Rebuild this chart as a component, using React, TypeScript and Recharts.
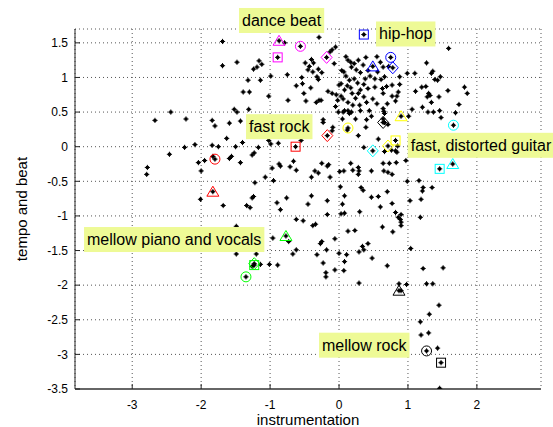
import { ScatterChart, Scatter, XAxis, YAxis, CartesianGrid, ReferenceDot } from "recharts";

type Pt = [number, number];
type Mark = { x: number; y: number; shape: "tri" | "circ" | "sq" | "dia" };

const font = "'Liberation Sans', Arial, Helvetica, sans-serif";

// songs, grouped by region of the plot
const upperLeft: Pt[] = [
  [-1.69, 1.52], [-0.79, 1.5], [-1.69, 1.17], [-1.48, 1.22], [-1.24, 1.12], [-1.19, 1.15],
  [-1.16, 1.24], [-1.12, 1.19], [-0.49, 1.21], [-0.45, 1.11], [-0.75, 1.04], [-0.99, 1.02],
  [-0.54, 1.0], [-1.32, 0.96], [-1.14, 0.96], [-0.62, 0.88], [-0.53, 0.91], [-1.39, 0.79],
  [-1.3, 0.79], [-1.02, 0.73], [-0.74, 0.67], [-0.48, 0.66], [-1.52, 0.54], [-1.48, 0.5],
  [-1.31, 0.54], [-2.44, 0.5], [-2.67, 0.38], [-2.22, 0.4], [-1.84, 0.38], [-1.8, 0.3],
  [-1.59, 0.34], [-1.43, 0.37], [-1.63, 0.12], [-1.23, 0.15], [-1.4, 0.06], [-1.02, 0.09],
  [-0.99, 0.04], [-0.88, 0.05], [-2.24, -0.01], [-2.09, 0.03], [-1.84, 0.02], [-1.75, 0.0],
  [-1.5, 0.0], [-1.17, -0.01], [-0.51, 0.77], [-0.55, 0.09],
];

const upperCenter: Pt[] = [
  [-0.29, 1.58], [-0.05, 1.44], [-0.1, 1.4], [-0.13, 1.37], [-0.4, 1.26], [-0.37, 1.21],
  [-0.43, 1.16], [-0.3, 1.12], [-0.38, 1.08], [-0.25, 1.07], [-0.32, 1.01], [-0.3, 0.97],
  [-0.07, 1.2], [-0.41, 0.85], [-0.16, 0.8], [-0.1, 0.77], [-0.04, 0.75], [-0.33, 0.64],
  [-0.29, 0.67], [-0.26, 0.67], [-0.23, 0.39], [-0.09, 0.28], [-0.1, 0.23], [-0.23, 0.35],
  [0.04, 1.1], [0.07, 1.08], [0.17, 1.22], [0.18, 1.15], [0.25, 1.11], [0.31, 1.07],
  [0.39, 1.29], [0.52, 0.98], [0.0, 0.89], [0.03, 0.91], [0.15, 0.96], [0.17, 0.85],
  [0.19, 0.77], [0.28, 0.77], [0.31, 0.82], [0.52, 0.86], [0.49, 0.69], [0.03, 0.73],
  [0.06, 0.69], [-0.02, 0.67], [0.08, 0.52], [0.06, 0.5], [0.13, 0.52], [0.18, 0.5],
  [0.15, 0.48], [0.31, 0.52], [0.44, 0.52], [-0.01, 0.5], [0.1, 1.3], [0.13, 1.25],
  [0.22, 1.2], [0.28, 1.25], [0.35, 1.18], [0.42, 1.1], [0.45, 1.02], [0.38, 0.98],
  [0.1, 1.02], [0.22, 0.98], [0.27, 0.92], [0.36, 0.9], [0.42, 0.84], [0.12, 0.88],
  [0.08, 0.82], [0.24, 0.7], [0.36, 0.72], [0.4, 0.64], [0.55, 0.62], [0.13, 0.64],
  [0.2, 0.6], [0.3, 0.6], [0.47, 0.44], [0.24, 0.4], [0.05, 0.4], [-0.05, 0.58],
  [0.56, 1.08], [0.55, 1.3], [0.12, 0.24], [0.28, 0.16], [0.39, 0.28], [0.57, 0.11],
  [0.36, -0.01], [0.4, 0.39],
];

const upperRight: Pt[] = [
  [1.59, 1.42], [1.27, 1.21], [0.99, 1.06], [1.1, 1.06], [0.88, 1.01], [0.66, 1.01],
  [0.61, 0.97], [1.34, 1.06], [1.36, 1.09], [1.39, 0.97], [1.43, 0.96], [1.47, 1.01],
  [0.88, 0.9], [0.77, 0.89], [0.69, 0.87], [0.63, 0.84], [0.64, 0.77], [0.77, 0.73],
  [0.84, 0.73], [0.82, 0.66], [0.86, 0.79], [1.11, 0.8], [1.2, 0.86], [1.26, 0.87],
  [1.3, 0.77], [1.32, 0.74], [1.28, 0.72], [1.34, 0.64], [1.21, 0.57], [1.29, 0.5],
  [1.37, 0.5], [1.46, 0.52], [1.48, 0.42], [1.58, 0.81], [1.45, 0.72], [1.82, 0.86],
  [1.86, 0.77], [1.74, 0.61], [1.69, 0.49], [1.06, 0.54], [1.01, 0.44], [0.64, 0.55],
  [0.65, 0.51], [0.66, 0.48], [0.64, 0.4], [0.72, 1.16], [0.7, 0.62], [0.6, 1.22],
  [0.64, 1.15], [0.66, 0.35], [0.71, 0.32], [0.85, 0.01],
];

const lowerLeft: Pt[] = [
  [-2.46, -0.11], [-1.26, -0.12], [-1.23, -0.09], [-2.78, -0.3], [-2.79, -0.4], [-2.04, -0.23],
  [-1.95, -0.2], [-2.0, -0.35], [-1.83, -0.14], [-1.59, -0.17], [-1.56, -0.14], [-1.43, -0.23],
  [-0.87, -0.25], [-0.85, -0.28], [-0.97, -0.31], [-0.71, -0.29], [-0.62, -0.34], [-0.66, -0.21],
  [-1.07, -0.44], [-0.95, -0.49], [-1.22, -0.52], [-2.01, -0.76], [-1.68, -0.85], [-1.26, -0.74],
  [-1.24, -0.72], [-1.34, -0.85], [-1.29, -0.88], [-0.9, -0.81], [-0.85, -0.91], [-0.76, -0.74],
  [-0.45, -0.83], [-0.62, -1.05], [-0.52, -1.07], [-1.49, -1.15], [-0.96, -1.32], [-0.73, -1.37],
  [-0.62, -1.49], [-0.67, -1.55], [-1.49, -1.55], [-1.2, -1.55], [-1.26, -1.73], [-1.14, -1.7],
  [-1.01, -1.7], [-0.89, -1.71],
];

const lowerCenter: Pt[] = [
  [-0.25, -0.24], [-0.17, -0.28], [-0.15, -0.26], [-0.35, -0.35], [-0.3, -0.38], [-0.4, -0.44],
  [-0.13, -0.44], [0.01, -0.36], [0.07, -0.35], [0.17, -0.24], [0.2, -0.34], [0.28, -0.3],
  [0.29, -0.35], [0.28, -0.4], [0.47, -0.35], [0.02, -0.58], [0.32, -0.59], [0.35, -0.63],
  [-0.4, -0.71], [-0.17, -0.78], [0.08, -0.71], [0.05, -0.83], [0.47, -0.73], [0.57, -0.72],
  [0.3, -0.94], [0.6, -0.87], [-0.17, -0.98], [0.03, -0.97], [0.08, -0.96], [-0.38, -1.14],
  [-0.34, -1.12], [0.13, -1.22], [0.23, -1.21], [-0.06, -1.33], [-0.27, -1.4], [-0.25, -1.37],
  [-0.18, -1.49], [-0.32, -1.56], [0.0, -1.54], [0.11, -1.56], [0.34, -1.44], [0.36, -1.49],
  [0.42, -1.4], [0.29, -1.52], [0.48, -1.61], [-0.23, -1.68], [0.08, -1.66], [-0.19, -1.82],
  [-0.19, -1.88], [-0.06, -1.78], [0.07, -1.79], [0.29, -1.97],
];

const lowerRight: Pt[] = [
  [0.76, -0.05], [0.82, -0.06], [0.84, -0.08], [0.66, -0.07], [0.64, -0.24], [0.73, -0.24],
  [0.83, -0.23], [0.97, -0.2], [0.65, -0.35], [0.71, -0.37], [0.77, -0.4], [0.99, -0.5],
  [1.16, -0.49], [1.22, -0.59], [1.21, -0.64], [1.35, -0.59], [0.7, -0.65], [0.77, -0.82],
  [1.03, -0.78], [1.19, -0.76], [0.82, -0.95], [0.9, -0.98], [0.86, -1.02], [0.89, -1.05],
  [0.9, -1.09], [0.9, -1.14], [0.63, -1.16], [0.78, -1.23], [1.18, -1.02], [1.04, -1.47],
  [0.7, -1.72], [1.22, -1.76], [1.51, -1.75], [0.87, -1.98], [0.98, -1.99], [1.27, -1.98],
  [1.36, -1.98], [0.9, -2.08], [1.45, -2.29], [1.31, -2.42], [1.18, -2.53], [1.19, -2.72],
  [1.3, -2.69], [1.43, -2.91], [1.46, -3.49],
];

// songs picked out with open markers
const magentaMarks: Mark[] = [
  { x: -0.87, y: 1.53, shape: "tri" }, { x: -0.56, y: 1.45, shape: "circ" },
  { x: -0.89, y: 1.29, shape: "sq" }, { x: -0.18, y: 1.29, shape: "dia" },
];
const blueMarks: Mark[] = [
  { x: 0.36, y: 1.62, shape: "sq" }, { x: 0.75, y: 1.29, shape: "circ" },
  { x: 0.49, y: 1.16, shape: "tri" }, { x: 0.78, y: 1.14, shape: "dia" },
];
const redMarks: Mark[] = [
  { x: -0.63, y: 0.0, shape: "sq" }, { x: -0.17, y: 0.16, shape: "dia" },
  { x: -1.8, y: -0.18, shape: "circ" }, { x: -1.83, y: -0.65, shape: "tri" },
];
const yellowMarks: Mark[] = [
  { x: 0.13, y: 0.27, shape: "circ" }, { x: 0.9, y: 0.44, shape: "tri" },
  { x: 0.82, y: 0.09, shape: "sq" }, { x: 0.71, y: 0.01, shape: "dia" },
];
const cyanMarks: Mark[] = [
  { x: 1.66, y: 0.31, shape: "circ" }, { x: 0.49, y: -0.06, shape: "dia" },
  { x: 1.46, y: -0.32, shape: "sq" }, { x: 1.65, y: -0.25, shape: "tri" },
];
const greenMarks: Mark[] = [
  { x: -0.77, y: -1.29, shape: "tri" }, { x: -1.23, y: -1.71, shape: "sq" },
  { x: -1.23, y: -1.69, shape: "dia" }, { x: -1.35, y: -1.88, shape: "circ" },
];
const blackMarks: Mark[] = [
  { x: 0.64, y: 0.35, shape: "dia" }, { x: 0.87, y: -2.08, shape: "tri" },
  { x: 1.27, y: -2.95, shape: "circ" }, { x: 1.48, y: -3.12, shape: "sq" },
];

const notes = [
  { text: "dance beat", x: -1.451, y: 1.823 },
  { text: "hip-hop", x: 0.537, y: 1.628 },
  { text: "fast rock", x: -1.349, y: 0.289 },
  { text: "fast, distorted guitar", x: 0.997, y: 0.02 },
  { text: "mellow piano and vocals", x: -3.699, y: -1.341 },
  { text: "mellow rock", x: -0.29, y: -2.867 },
];

const xTicks = [-3, -2, -1, 0, 1, 2];
const yTicks = [-3.5, -3, -2.5, -2, -1.5, -1, -0.5, 0, 0.5, 1, 1.5];

const markGroups: [string, Mark[]][] = [
  ["#ff00ff", magentaMarks],
  ["#0000ff", blueMarks],
  ["#ff0000", redMarks],
  ["#ffff00", yellowMarks],
  ["#00ffff", cyanMarks],
  ["#00ff00", greenMarks],
  ["#000000", blackMarks],
];

const allSongs = [
  ...upperLeft, ...upperCenter, ...upperRight, ...lowerLeft, ...lowerCenter, ...lowerRight,
].map(([x, y]) => ({ x, y }));
const markedSongs = markGroups.flatMap(([, m]) => m.map((p) => ({ x: p.x, y: p.y })));

function SongDot(props: any) {
  const { cx, cy } = props;
  if (cx == null || cy == null) return null;
  return (
    <g>
      <rect x={cx - 1.5} y={cy - 1.5} width={3} height={3} fill="#000" />
      <path d={`M${cx - 2.6},${cy}H${cx + 2.6}M${cx},${cy - 2.6}V${cy + 2.6}`} stroke="#000" strokeWidth={1} />
    </g>
  );
}

const markShape = (color: string) => (props: any) => {
  const { cx, cy, payload } = props;
  if (cx == null || cy == null) return null;
  const common = { fill: "none", stroke: color, strokeWidth: 1 };
  switch (payload.shape) {
    case "tri":
      return <path d={`M${cx},${cy - 5.5}L${cx + 6},${cy + 4.5}L${cx - 6},${cy + 4.5}Z`} {...common} />;
    case "circ":
      return <circle cx={cx} cy={cy} r={5} {...common} />;
    case "sq":
      return <rect x={cx - 4.5} y={cy - 4.5} width={9} height={9} {...common} />;
    default:
      return <path d={`M${cx},${cy - 6}L${cx + 5.5},${cy}L${cx},${cy + 6}L${cx - 5.5},${cy}Z`} {...common} />;
  }
};

let ctx: CanvasRenderingContext2D | null = null;
function textWidth(t: string) {
  if (!ctx) ctx = document.createElement("canvas").getContext("2d");
  if (!ctx) return t.length * 8;
  ctx.font = `16px ${font}`;
  return ctx.measureText(t).width;
}

const noteShape = (text: string) => (props: any) => {
  const { cx, cy } = props;
  if (cx == null || cy == null) return null;
  const w = textWidth(text) + 6;
  return (
    <g>
      <rect x={cx} y={cy - 12.5} width={w} height={25} fill="#eefa96" />
      <text x={cx + 3} y={cy + 5.5} fontSize={16} fontFamily={font} fill="#000">
        {text}
      </text>
    </g>
  );
};

function XTick(props: any) {
  const { x, y, payload } = props;
  return (
    <g>
      <line x1={x} x2={x} y1={y - 11} y2={y - 16} stroke="#222" />
      <text x={x} y={y} dy="0.71em" textAnchor="middle" fontSize={12} fontFamily={font} fill="#000">
        {payload.value}
      </text>
    </g>
  );
}

function YTick(props: any) {
  const { x, y, payload } = props;
  return (
    <g>
      <line x1={x + 7} x2={x + 12} y1={y} y2={y} stroke="#222" />
      <text x={x} y={y} dy="0.35em" textAnchor="end" fontSize={12} fontFamily={font} fill="#000">
        {payload.value}
      </text>
    </g>
  );
}

export default function App() {
  return (
    <div style={{ position: "absolute", left: 0, top: 0, background: "#fff" }}>
      <ScatterChart width={553} height={427} margin={{ top: 29, right: 12, bottom: 0, left: 0 }}>
        <CartesianGrid stroke="#555" strokeDasharray="1 3" />
        <XAxis
          type="number"
          dataKey="x"
          domain={[-3.83, 2.93]}
          ticks={xTicks}
          allowDataOverflow
          height={38}
          tickSize={0}
          tickMargin={11}
          tickLine={false}
          tick={<XTick />}
          axisLine={{ stroke: "#666", strokeWidth: 2 }}
          label={{
            value: "instrumentation",
            position: "insideBottom",
            offset: 2,
            style: { fontSize: 15, fontFamily: font, fill: "#000" },
          }}
        />
        <YAxis
          type="number"
          dataKey="y"
          domain={[-3.5, 1.7]}
          ticks={yTicks}
          allowDataOverflow
          width={75}
          tickSize={0}
          tickMargin={7}
          tickLine={false}
          tick={<YTick />}
          axisLine={{ stroke: "#222" }}
          label={{
            value: "tempo and beat",
            angle: -90,
            position: "insideLeft",
            offset: 22,
            style: { textAnchor: "middle", fontSize: 15, fontFamily: font, fill: "#000" },
          }}
        />
        <Scatter data={allSongs} shape={SongDot} isAnimationActive={false} />
        <Scatter data={markedSongs} shape={SongDot} isAnimationActive={false} />
        {markGroups.map(([color, marks]) => (
          <Scatter key={color} data={marks} shape={markShape(color)} isAnimationActive={false} />
        ))}
        {notes.map((n) => (
          <ReferenceDot key={n.text} x={n.x} y={n.y} r={1} ifOverflow="visible" shape={noteShape(n.text)} />
        ))}
      </ScatterChart>
    </div>
  );
}
